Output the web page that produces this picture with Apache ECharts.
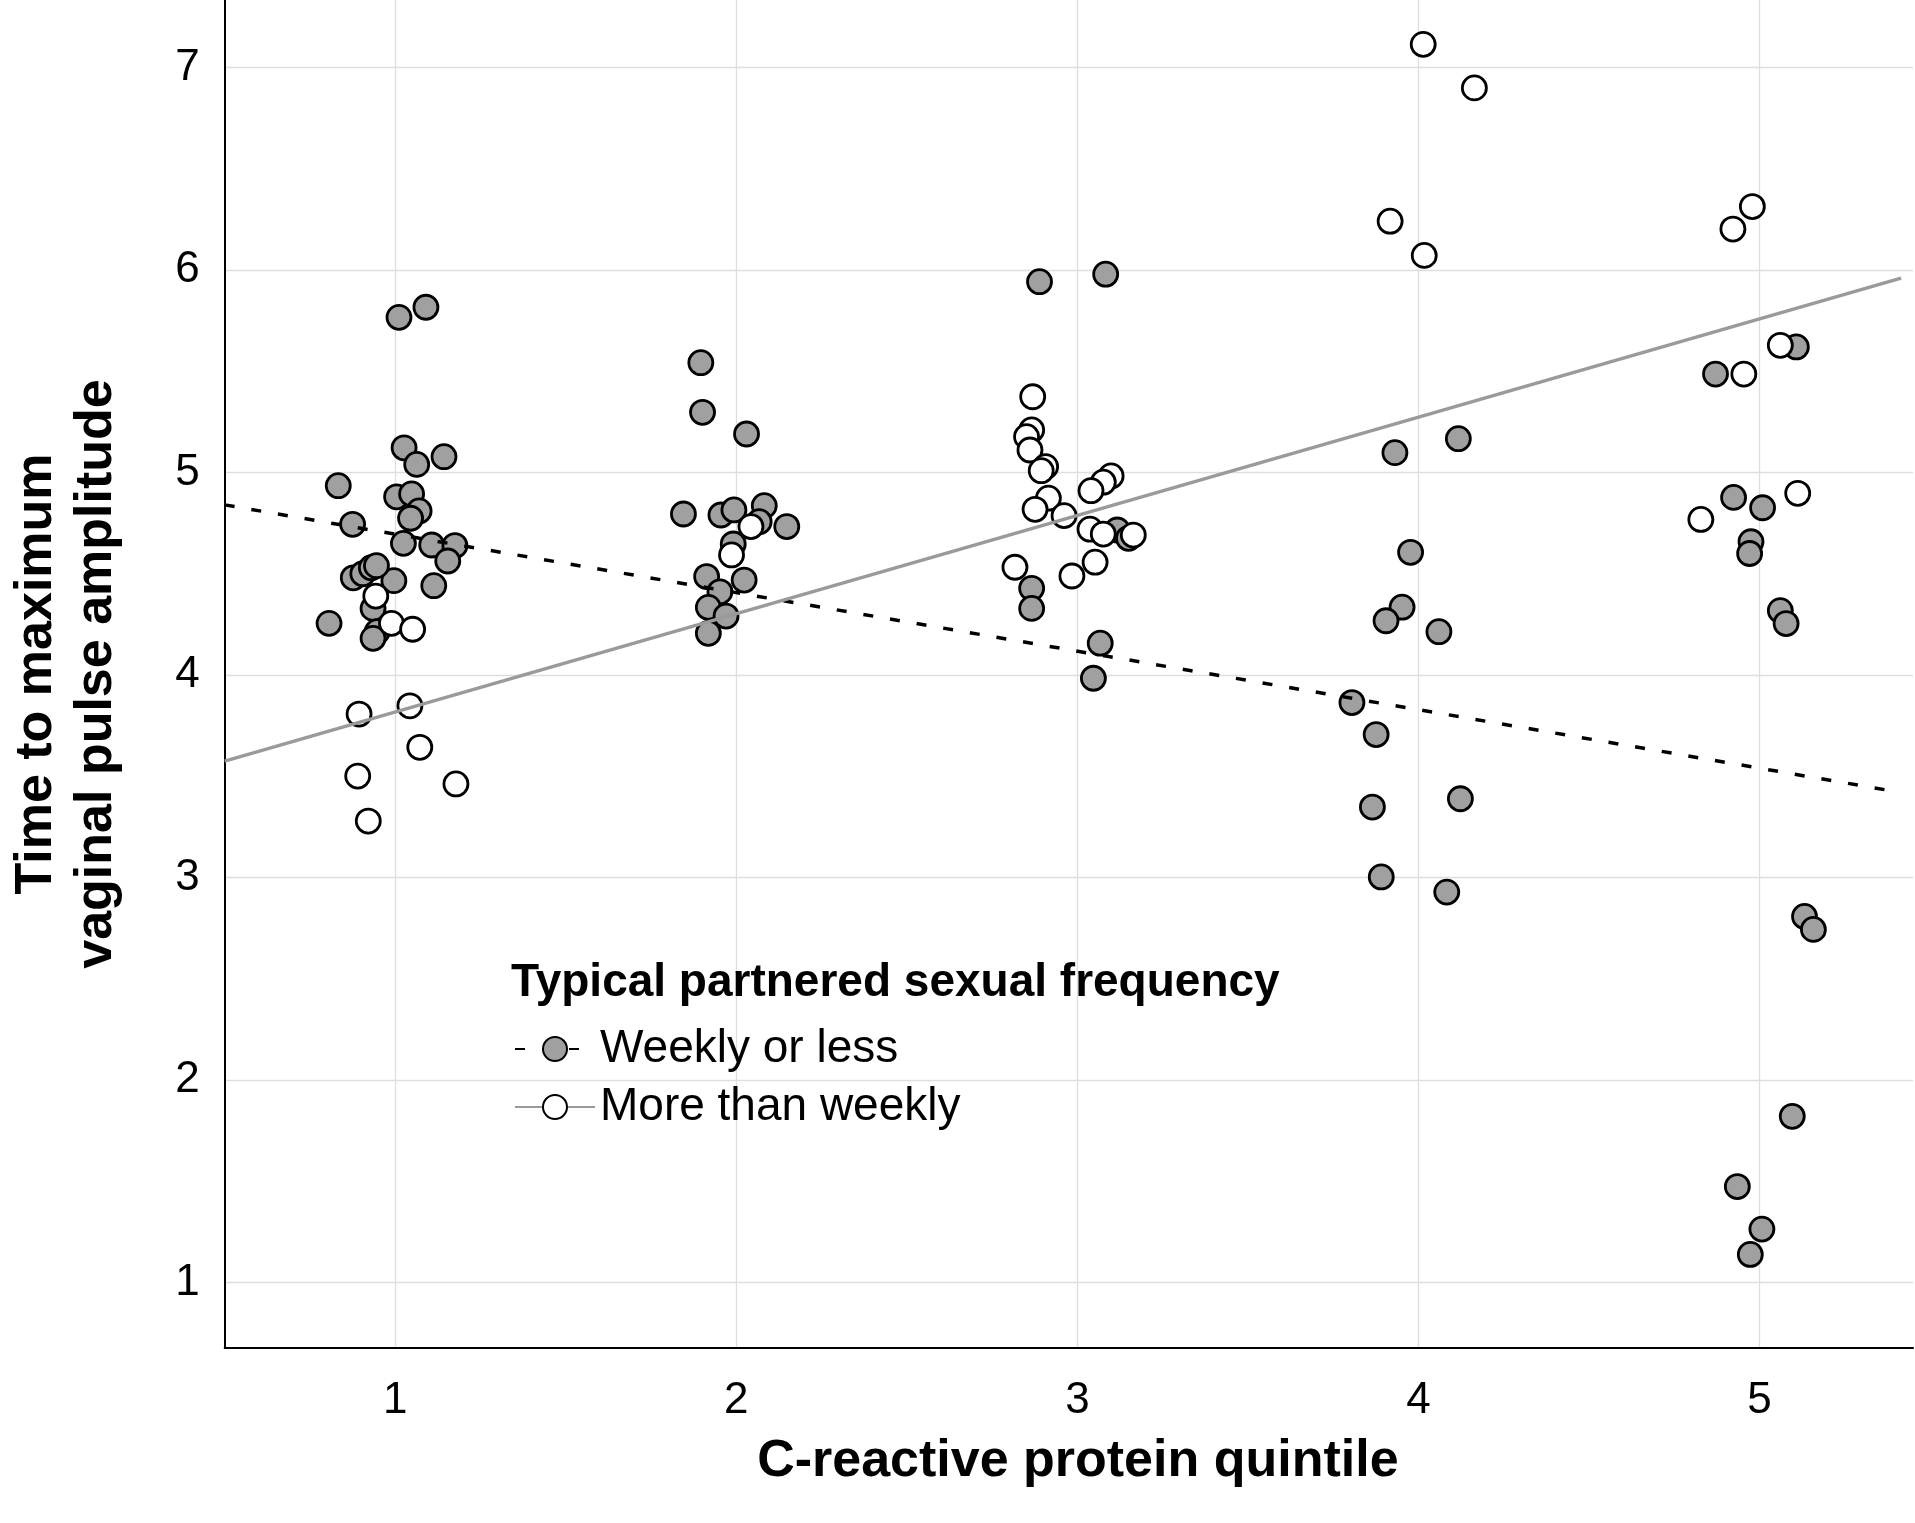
<!DOCTYPE html>
<html>
<head>
<meta charset="utf-8">
<style>
  html, body { margin: 0; padding: 0; background: #fff; }
  #chart { width: 1915px; height: 1523px; }
</style>
<script src="https://cdn.jsdelivr.net/npm/echarts@6/dist/echarts.min.js"></script>
</head>
<body>
<div id="chart"></div>
<script>
// ---- Data (x = jittered quintile position, y = time) ----
const weeklyOrLessPoints = [
  // quintile 1
  [1.011,5.766],[1.090,5.816],[1.026,5.122],[1.063,5.040],[1.143,5.078],[0.833,4.935],
  [1.004,4.880],[1.048,4.894],[1.070,4.810],[1.045,4.774],[0.875,4.744],[1.024,4.650],
  [1.107,4.642],[1.175,4.639],[1.154,4.563],[1.113,4.441],[0.996,4.466],[0.877,4.480],
  [0.905,4.500],[0.930,4.530],[0.945,4.540],[0.806,4.255],[0.935,4.329],[0.947,4.214],
  [0.935,4.181],
  // quintile 2
  [1.896,5.542],[1.901,5.297],[2.030,5.190],[1.845,4.795],[1.955,4.790],[1.993,4.815],
  [2.082,4.836],[2.067,4.757],[2.148,4.733],[1.991,4.647],[1.913,4.486],[2.023,4.469],
  [1.952,4.411],[1.918,4.334],[1.970,4.291],[1.918,4.206],
  // quintile 3
  [2.889,5.942],[3.083,5.979],[2.866,4.428],[2.866,4.329],[3.067,4.157],[3.047,3.984],
  [3.117,4.716],[3.150,4.675],
  // quintile 4
  [3.931,5.098],[4.117,5.167],[3.977,4.606],[3.952,4.335],[3.905,4.268],[4.060,4.214],
  [3.805,3.864],[3.876,3.706],[3.865,3.348],[3.891,3.003],[4.123,3.389],[4.083,2.928],
  // quintile 5
  [4.871,5.486],[5.108,5.620],[4.924,4.877],[5.009,4.826],[4.975,4.658],[4.971,4.600],
  [5.061,4.318],[5.078,4.254],[5.132,2.808],[5.158,2.744],[5.096,1.821],[4.935,1.474],
  [5.007,1.264],[4.973,1.139]
];

const moreThanWeeklyPoints = [
  // quintile 1
  [0.943,4.390],[0.989,4.255],[1.051,4.226],[0.894,3.807],[1.043,3.848],[1.072,3.643],
  [0.890,3.501],[1.178,3.462],[0.921,3.279],
  // quintile 2
  [2.043,4.733],[1.986,4.593],
  // quintile 3
  [2.869,5.374],[2.866,5.210],[2.851,5.177],[2.861,5.111],[2.907,5.029],[2.894,5.009],
  [2.915,4.873],[2.876,4.818],[2.961,4.787],[3.099,4.983],[3.076,4.952],[3.040,4.910],
  [3.037,4.720],[3.076,4.696],[3.164,4.691],[2.817,4.532],[2.984,4.489],[3.052,4.557],
  // quintile 4
  [4.014,7.114],[4.164,6.899],[3.917,6.241],[4.017,6.072],
  // quintile 5
  [4.979,6.313],[4.922,6.202],[5.061,5.628],[4.954,5.486],[5.112,4.897],[4.828,4.768]
];

// Fitted lines (end points)
const weeklyOrLessFit = [[0.5, 4.84], [5.405, 3.423]];
const moreThanWeeklyFit = [[0.5, 3.575], [5.415, 5.96]];

const seriesNames = ['Weekly or less', 'More than weekly'];
const legendTitle = 'Typical partnered sexual frequency';
const xAxisTitle = 'C-reactive protein quintile';
const yAxisTitle = 'Time to maximum\nvaginal pulse amplitude';
const xRange = [0.5, 5.45];
const yRange = [0.677, 7.333];

// ---- Chart ----
const FONT = '"Liberation Sans", Arial, Helvetica, sans-serif';
const grayFill = '#a0a0a0';

const chart = echarts.init(document.getElementById('chart'), null, { renderer: 'canvas' });

const intOnly = v => (Math.abs(v - Math.round(v)) < 1e-9 ? String(Math.round(v)) : '');

const option = {
  backgroundColor: '#ffffff',
  animation: false,
  textStyle: { fontFamily: FONT },
  title: {
    text: legendTitle,
    left: 511,
    top: 960,
    padding: 0,
    textStyle: { fontFamily: FONT, fontSize: 46, fontWeight: 'bold', color: '#000' }
  },
  legend: {
    data: seriesNames,
    orient: 'vertical',
    left: 514,
    top: 1026,
    padding: 0,
    itemWidth: 80,
    itemHeight: 30,
    itemGap: 12,
    selectedMode: false,
    textStyle: { fontFamily: FONT, fontSize: 46, color: '#000' }
  },
  grid: { left: 224.7, right: 2, top: 0, bottom: 175, containLabel: false, outerBoundsMode: 'none' },
  xAxis: {
    type: 'value',
    min: xRange[0],
    max: xRange[1],
    splitNumber: 5,
    name: xAxisTitle,
    nameLocation: 'middle',
    nameGap: 88,
    nameTextStyle: { fontFamily: FONT, fontSize: 52, fontWeight: 'bold', color: '#000',
                     padding: [0, 0, 0, 18] },
    axisLine: { show: true, onZero: false, lineStyle: { color: '#000', width: 2 } },
    axisTick: { show: false },
    axisLabel: { showMinLabel: false, showMaxLabel: false, formatter: intOnly, margin: 31,
                 fontFamily: FONT, fontSize: 44, color: '#000' },
    splitLine: { show: true, showMinLine: false, showMaxLine: false,
                 lineStyle: { color: '#dedede', width: 1.3 } }
  },
  yAxis: {
    type: 'value',
    min: yRange[0],
    max: yRange[1],
    splitNumber: 5,
    name: yAxisTitle,
    nameLocation: 'middle',
    nameGap: 98,
    nameTextStyle: { fontFamily: FONT, fontSize: 52, fontWeight: 'bold', color: '#000', lineHeight: 60 },
    axisLine: { show: true, onZero: false, lineStyle: { color: '#000', width: 2 } },
    axisTick: { show: false },
    axisLabel: { showMinLabel: false, showMaxLabel: false, formatter: intOnly, margin: 25,
                 fontFamily: FONT, fontSize: 44, color: '#000' },
    splitLine: { show: true, showMinLine: false, showMaxLine: false,
                 lineStyle: { color: '#dedede', width: 1.3 } }
  },
  series: [
    {
      name: seriesNames[0],
      type: 'line',
      data: weeklyOrLessFit,
      showSymbol: false,
      symbol: 'circle',
      symbolSize: 24,
      z: 5,
      silent: true,
      itemStyle: { color: grayFill, borderColor: '#000', borderWidth: 2.8 },
      lineStyle: { color: '#000', width: 3.5, type: [10, 17] },
      emphasis: { disabled: true }
    },
    {
      name: seriesNames[1],
      type: 'line',
      data: moreThanWeeklyFit,
      showSymbol: false,
      symbol: 'circle',
      symbolSize: 24,
      z: 5,
      silent: true,
      itemStyle: { color: '#ffffff', borderColor: '#000', borderWidth: 2.8 },
      lineStyle: { color: '#9a9a9a', width: 3.5, type: 'solid' },
      emphasis: { disabled: true }
    },
    {
      name: seriesNames[0],
      type: 'scatter',
      data: weeklyOrLessPoints,
      symbol: 'circle',
      symbolSize: 24,
      z: 3,
      itemStyle: { color: grayFill, borderColor: '#000', borderWidth: 2.8, opacity: 1 },
      emphasis: { disabled: true }
    },
    {
      name: seriesNames[1],
      type: 'scatter',
      data: moreThanWeeklyPoints,
      symbol: 'circle',
      symbolSize: 24,
      z: 3,
      itemStyle: { color: '#ffffff', borderColor: '#000', borderWidth: 2.8, opacity: 1 },
      emphasis: { disabled: true }
    }
  ]
};

chart.setOption(option);
</script>
</body>
</html>
